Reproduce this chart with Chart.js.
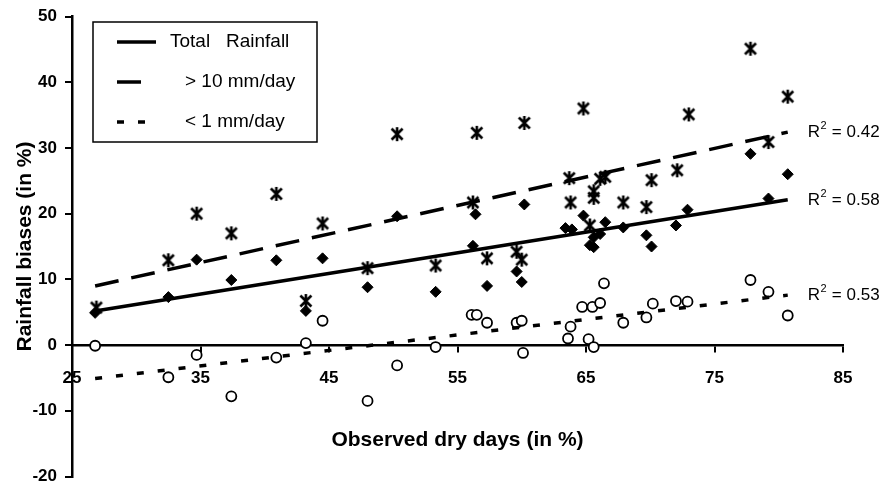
<!DOCTYPE html>
<html>
<head>
<meta charset="utf-8">
<script src="https://cdn.jsdelivr.net/npm/chart.js@4.4.0/dist/chart.umd.min.js"></script>
<style>
  html, body { margin: 0; padding: 0; background: #fff; }
  #wrap { width: 880px; height: 493px; }
</style>
</head>
<body>
<div id="wrap"><canvas id="rainChart" width="880" height="493"></canvas></div>
<script>
// values: x = observed dry days (%), y = rainfall bias (%)
const totalX = [26.8, 32.5, 34.7, 37.4, 40.9, 43.2, 44.5, 48.0, 50.3, 53.3, 56.4, 56.2, 57.3, 60.2, 59.6, 60.0,
  63.4, 63.9, 64.8, 66.5, 66.1, 65.6, 65.3, 65.6, 67.9, 69.7, 70.1, 72.0, 72.9, 77.8, 79.2, 80.7]
const totalY = [4.9, 7.3, 13.0, 9.9, 12.9, 5.2, 13.2, 8.8, 19.6, 8.1, 19.9, 15.1, 9.0, 21.4, 11.2, 9.6,
  17.8, 17.6, 19.7, 18.7, 16.9, 16.4, 15.2, 14.9, 17.9, 16.7, 15.0, 18.2, 20.6, 29.1, 22.3, 26.0]

const heavyX = [26.9, 32.5, 34.7, 37.4, 40.9, 43.2, 44.5, 48.0, 50.3, 53.3, 56.5, 56.2, 57.3, 60.2, 59.6, 60.0,
  64.8, 63.7, 63.8, 66.1, 66.5, 65.6, 65.6, 65.3, 67.9, 73.0, 70.1, 72.1, 69.7, 77.8, 79.2, 80.7]
const heavyY = [5.7, 12.9, 20.0, 17.0, 23.0, 6.7, 18.5, 11.7, 32.1, 12.1, 32.3, 21.7, 13.2, 33.8, 14.2, 13.0,
  36.0, 25.4, 21.7, 25.3, 25.6, 23.4, 22.4, 18.2, 21.7, 35.1, 25.1, 26.6, 21.0, 45.1, 30.9, 37.8]

const lightX = [26.8, 32.5, 34.7, 37.4, 40.9, 43.2, 44.5, 48.0, 50.3, 53.3, 56.1, 56.5, 57.3, 59.6, 60.0, 60.1,
  63.6, 63.8, 64.7, 65.5, 66.1, 66.4, 65.2, 65.6, 67.9, 69.7, 70.2, 72.0, 72.9, 77.8, 79.2, 80.7]
const lightY = [-0.1, -4.9, -1.5, -7.8, -1.9, 0.3, 3.7, -8.5, -3.1, -0.3, 4.6, 4.6, 3.4, 3.4, 3.7, -1.2,
  1.0, 2.8, 5.8, 5.8, 6.4, 9.4, 0.9, -0.3, 3.4, 4.2, 6.3, 6.7, 6.6, 9.9, 8.1, 4.5]

// regression lines, end points as drawn
const trendX = [26.8, 80.7]
const totalTrend = [5.2, 22.1]
const heavyTrend = [9.0, 32.4]
const lightTrend = [-5.1, 7.6]

const seriesLabels = ["Total   Rainfall", "> 10 mm/day", "< 1 mm/day"]
const r2Values = ["0.58", "0.42", "0.53"]
const xTicks = [25, 35, 45, 55, 65, 75, 85]
const yTicks = [-20, -10, 0, 10, 20, 30, 40, 50]

const FONT = "'Liberation Sans', Arial, Helvetica, sans-serif"

// asterisk marker: X with a vertical bar
const starMark = document.createElement("canvas")
starMark.width = 16
starMark.height = 16
const sctx = starMark.getContext("2d")
sctx.strokeStyle = "#000"
sctx.lineWidth = 2.6
sctx.beginPath()
sctx.moveTo(2.5, 2.5); sctx.lineTo(13.5, 13.5)
sctx.moveTo(13.5, 2.5); sctx.lineTo(2.5, 13.5)
sctx.moveTo(8, 1); sctx.lineTo(8, 15)
sctx.stroke()

const toPoints = (xs, ys) => xs.map((v, i) => ({ x: v, y: ys[i] }))

const lineStyles = [
  { dash: [], end: 156 },
  { dash: [24, 13], end: 143 },
  { dash: [7, 14], end: 147 },
]

const overlayPlugin = {
  id: "overlay",
  afterDatasetsDraw(chart) {
    const { ctx, scales } = chart
    const x = scales.x
    const y = scales.y
    ctx.save()
    ctx.fillStyle = "#000"
    ctx.textBaseline = "middle"

    // R² labels next to the end of each trend line
    const ends = [totalTrend[1], heavyTrend[1], lightTrend[1]]
    ends.forEach((v, i) => {
      const px = x.getPixelForValue(trendX[1]) + 20
      const py = y.getPixelForValue(v)
      ctx.font = "17px " + FONT
      ctx.fillText("R", px, py)
      const w = ctx.measureText("R").width
      ctx.font = "11px " + FONT
      ctx.fillText("2", px + w + 0.5, py - 6)
      const w2 = ctx.measureText("2").width
      ctx.font = "17px " + FONT
      ctx.fillText(" = " + r2Values[i], px + w + w2 + 1, py)
    })

    // legend box
    const bx = 93, by = 22, bw = 224, bh = 120
    ctx.fillStyle = "#fff"
    ctx.fillRect(bx, by, bw, bh)
    ctx.strokeStyle = "#000"
    ctx.lineWidth = 1.5
    ctx.strokeRect(bx, by, bw, bh)
    const rowY = [42, 82, 122]
    const textX = [170, 185, 185]
    seriesLabels.forEach((label, i) => {
      ctx.beginPath()
      ctx.setLineDash(lineStyles[i].dash)
      ctx.lineWidth = 3.5
      ctx.moveTo(117, rowY[i])
      ctx.lineTo(lineStyles[i].end, rowY[i])
      ctx.stroke()
      ctx.setLineDash([])
      ctx.fillStyle = "#000"
      ctx.font = "19px " + FONT
      ctx.fillText(label, textX[i], rowY[i])
    })
    ctx.restore()
  },
}

const chart = new Chart(document.getElementById("rainChart"), {
  type: "scatter",
  data: {
    datasets: [
      {
        label: seriesLabels[0] + " trend",
        data: toPoints(trendX, totalTrend),
        showLine: true,
        borderColor: "#000",
        borderWidth: 3.5,
        pointRadius: 0,
      },
      {
        label: seriesLabels[1] + " trend",
        data: toPoints(trendX, heavyTrend),
        showLine: true,
        borderColor: "#000",
        borderWidth: 3.5,
        borderDash: lineStyles[1].dash,
        pointRadius: 0,
      },
      {
        label: seriesLabels[2] + " trend",
        data: toPoints(trendX, lightTrend),
        showLine: true,
        borderColor: "#000",
        borderWidth: 3.5,
        borderDash: lineStyles[2].dash,
        pointRadius: 0,
      },
      {
        label: seriesLabels[0],
        data: toPoints(totalX, totalY),
        pointStyle: "rectRot",
        pointRadius: 5.5,
        backgroundColor: "#000",
        borderColor: "#000",
        borderWidth: 1,
      },
      {
        label: seriesLabels[1],
        data: toPoints(heavyX, heavyY),
        pointStyle: starMark,
      },
      {
        label: seriesLabels[2],
        data: toPoints(lightX, lightY),
        pointStyle: "circle",
        pointRadius: 5,
        backgroundColor: "#fff",
        borderColor: "#000",
        borderWidth: 1.8,
      },
    ],
  },
  options: {
    responsive: false,
    animation: false,
    events: [],
    layout: { padding: { top: 16, right: 37, bottom: 9, left: 0 } },
    plugins: {
      legend: { display: false },
      tooltip: { enabled: false },
    },
    scales: {
      x: {
        type: "linear",
        position: { y: 0 },
        min: 25,
        max: 85,
        afterBuildTicks: (s) => { s.ticks = xTicks.map((v) => ({ value: v })) },
        afterFit: (s) => { s.height = 0 },
        ticks: {
          color: "#000",
          padding: 19,
          font: { family: FONT, size: 17, weight: "bold", lineHeight: 1 },
        },
        grid: { drawOnChartArea: false, tickLength: 6, color: "#000", lineWidth: 2 },
        border: { color: "#000", width: 2.5 },
        title: {
          display: true,
          text: "Observed dry days (in %)",
          color: "#000",
          font: { family: FONT, size: 21, weight: "bold", lineHeight: 1.2 },
          padding: { top: 0, bottom: -108 },
        },
      },
      y: {
        type: "linear",
        position: "left",
        min: -20,
        max: 50,
        afterBuildTicks: (s) => { s.ticks = yTicks.map((v) => ({ value: v })) },
        afterFit: (s) => { s.width = 72 },
        ticks: {
          color: "#000",
          padding: 8,
          font: { family: FONT, size: 17, weight: "bold", lineHeight: 1 },
        },
        grid: { drawOnChartArea: false, tickLength: 7, color: "#000", lineWidth: 2 },
        border: { color: "#000", width: 2.5 },
        title: {
          display: true,
          text: "Rainfall biases (in %)",
          color: "#000",
          font: { family: FONT, size: 21, weight: "bold", lineHeight: 1.2 },
          padding: { top: 12.4, bottom: 0 },
        },
      },
    },
  },
  plugins: [overlayPlugin],
})
</script>
</body>
</html>
